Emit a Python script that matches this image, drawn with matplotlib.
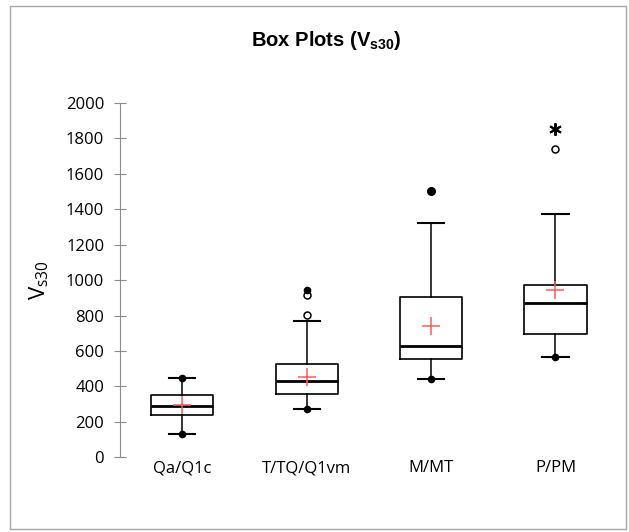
import matplotlib.pyplot as plt
from matplotlib.patches import Rectangle

# valeurs
groups = ["Qa/Q1c", "T/TQ/Q1vm", "M/MT", "P/PM"]
q1 = [236, 356, 553, 697]
med = [292, 431, 626, 873]
q3 = [349, 525, 903, 973]
whislo = [131, 272, 442, 568]
whishi = [446, 768, 1320, 1376]
means = [295, 453, 740, 946]

# points extremes
min_pts = [131, 272, 442, 568]
max_pts_grp = [1, 2, 3]
max_pts = [446, 945, 1503]
out_grp = [2, 2, 4]
out_vals = [802, 917, 1743]
far_grp = [4]
far_vals = [1856]

stats = []
for i in range(len(groups)):
    stats.append(dict(label=groups[i], q1=q1[i], med=med[i], q3=q3[i],
                      whislo=whislo[i], whishi=whishi[i], mean=means[i], fliers=[]))

fig = plt.figure(figsize=(6.29, 5.32), dpi=100)
ax = fig.add_axes([0.191, 0.1404, 0.791, 0.666])

pos = [1, 2, 3, 4]
ax.bxp(stats, positions=pos, widths=0.5, capwidths=0.21, showmeans=True,
       boxprops=dict(color="black", linewidth=1.2),
       medianprops=dict(color="black", linewidth=2),
       whiskerprops=dict(color="black", linewidth=1.1),
       capprops=dict(color="black", linewidth=1.5),
       meanprops=dict(marker="+", markeredgecolor="#ff5a5a", markersize=13,
                      markeredgewidth=1.1))

ax.plot(pos, min_pts, "o", color="black", markersize=4.5, zorder=5)
ax.plot(max_pts_grp[:2], max_pts[:2], "o", color="black", markersize=4.5, zorder=5)
ax.plot(max_pts_grp[2:], max_pts[2:], "o", color="black", markersize=5.5, zorder=5)
ax.plot(out_grp, out_vals, "o", mfc="white", mec="black", mew=1.1, markersize=5)
ax.plot(far_grp, far_vals, marker=(6, 2, 0), color="black", markersize=9,
        mew=1.4, linestyle="none")
ax.plot(far_grp, far_vals, "o", color="black", markersize=3.5)

ax.set_xlim(0.5, 4.5)
ax.set_ylim(0, 2000)
ax.set_yticks(range(0, 2001, 200))
ax.set_xticks(pos)
ax.set_xticklabels(groups)
for s in ["top", "right", "bottom"]:
    ax.spines[s].set_visible(False)
ax.spines["left"].set_color("#8c8c8c")
ax.tick_params(axis="y", direction="inout", length=9, color="#8c8c8c",
               labelsize=12, pad=7)
ax.tick_params(axis="x", length=0, labelsize=12, pad=2)
for t in ax.get_xticklabels() + ax.get_yticklabels():
    t.set_fontfamily("Open Sans")

ax.set_ylabel(r"V$_{\mathregular{s30}}$", fontsize=16, fontfamily="Open Sans", labelpad=11)

fig.text(0.518, 0.923, r"Box Plots (V$_{\mathregular{s30}}$)", ha="center", va="center",
         fontsize=14.5, fontweight="bold", fontfamily="Liberation Sans")

fig.patches.append(Rectangle((10 / 629, 3 / 532), 616 / 629, 523 / 532,
                             transform=fig.transFigure, fill=False,
                             edgecolor="#a6a6a6", linewidth=1))

fig.savefig("out.png", dpi=100)
